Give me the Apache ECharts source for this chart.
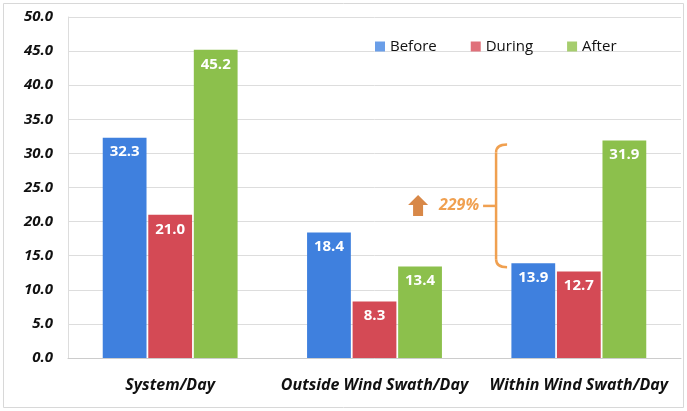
<!DOCTYPE html>
<html>

<head>
    <meta charset="utf-8">
    <script src="https://cdn.jsdelivr.net/npm/echarts@6/dist/echarts.min.js"></script>
    <style>
        body { margin: 0; background: #fff; }
        #main { width: 687px; height: 411px; }
    </style>
</head>

<body>
    <div id="main"></div>
</body>
<script>
    var categories = ['System/Day', 'Outside Wind Swath/Day', 'Within Wind Swath/Day'];
    var before = [32.3, 18.4, 13.9];
    var during = [21.0, 8.3, 12.7];
    var after = [45.2, 13.4, 31.9];
    var increase = '229%';

    var font = '"Open Sans", "Liberation Sans", sans-serif';
    var myChart = echarts.init(document.getElementById('main'));

    function makeSeries(name, data, color) {
        return {
            name: name,
            type: 'bar',
            data: data,
            barGap: '4%',
            barCategoryGap: '34%',
            itemStyle: { color: color },
            label: {
                show: true,
                position: 'insideTop',
                distance: 7,
                color: '#fff',
                fontWeight: 'bold',
                fontSize: 15,
                fontFamily: font,
                formatter: function (p) { return p.value.toFixed(1); }
            }
        };
    }

    myChart.setOption({
        animation: false,
        backgroundColor: '#fff',
        textStyle: { fontFamily: font },
        legend: {
            top: 34,
            left: 370,
            itemWidth: 10,
            itemHeight: 10,
            itemGap: 34,
            icon: 'rect',
            textStyle: { fontSize: 15, color: '#111', fontFamily: font },
            data: [
                { name: 'Before', itemStyle: { color: '#6a9ee8' } },
                { name: 'During', itemStyle: { color: '#e0707a' } },
                { name: 'After', itemStyle: { color: '#a6cd6e' } }
            ]
        },
        grid: { left: 68, right: 6, top: 17, bottom: 53 },
        xAxis: {
            type: 'category',
            data: categories,
            axisTick: { show: false },
            axisLine: { lineStyle: { color: '#cccccc' } },
            axisLabel: {
                interval: 0,
                margin: 19,
                fontSize: 16,
                fontWeight: 'bold',
                fontStyle: 'italic',
                color: '#111',
                fontFamily: font
            }
        },
        yAxis: {
            type: 'value',
            min: 0,
            max: 50,
            interval: 5,
            axisLine: { show: true, lineStyle: { color: '#dddddd' } },
            axisTick: { show: false },
            splitLine: { lineStyle: { color: '#dddddd' } },
            axisLabel: {
                margin: 15,
                fontSize: 15,
                fontWeight: 'bold',
                fontStyle: 'italic',
                color: '#111',
                fontFamily: font,
                formatter: function (v) { return v.toFixed(1); }
            }
        },
        series: [
            makeSeries('Before', before, '#3f80de'),
            makeSeries('During', during, '#d44a55'),
            makeSeries('After', after, '#8cc04c')
        ]
    });

    // bracket showing the rise from Before to After in the third group
    var idx = 2;
    var c0 = myChart.convertToPixel({ xAxisIndex: 0 }, categories[0]);
    var c1 = myChart.convertToPixel({ xAxisIndex: 0 }, categories[1]);
    var cx = myChart.convertToPixel({ xAxisIndex: 0 }, categories[idx]);
    var bandW = c1 - c0;
    var yTop = myChart.convertToPixel({ yAxisIndex: 0 }, after[idx] - 0.6);
    var yBot = myChart.convertToPixel({ yAxisIndex: 0 }, before[idx] - 0.6);
    var bx = cx - bandW * 0.405;
    var yMid = (yTop + yBot) / 2;
    var orange = '#f0a050';
    var lineStyle = { stroke: orange, lineWidth: 2.5, fill: 'none' };

    myChart.setOption({
        graphic: [
            {
                type: 'rect',
                shape: { x: 3.5, y: 3.5, width: 680, height: 404 },
                style: { fill: 'none', stroke: '#d8d8d8', lineWidth: 1 },
                silent: true
            },
            {
                type: 'bezierCurve',
                shape: { x1: bx + 11, y1: yTop, cpx1: bx, cpy1: yTop, x2: bx, y2: yTop + 8 },
                style: lineStyle
            },
            {
                type: 'line',
                shape: { x1: bx, y1: yTop + 8, x2: bx, y2: yBot - 8 },
                style: lineStyle
            },
            {
                type: 'bezierCurve',
                shape: { x1: bx, y1: yBot - 8, cpx1: bx, cpy1: yBot, x2: bx + 11, y2: yBot },
                style: lineStyle
            },
            {
                type: 'line',
                shape: { x1: bx - 13, y1: yMid, x2: bx, y2: yMid },
                style: lineStyle
            },
            {
                type: 'text',
                x: bx - 17,
                y: yMid,
                style: {
                    text: increase,
                    fill: orange,
                    font: 'italic bold 16px ' + font,
                    align: 'right',
                    verticalAlign: 'middle'
                }
            },
            {
                type: 'polygon',
                shape: {
                    points: [
                        [bx - 88, yMid - 1], [bx - 78, yMid - 11], [bx - 68, yMid - 1],
                        [bx - 73, yMid - 1], [bx - 73, yMid + 10], [bx - 83, yMid + 10], [bx - 83, yMid - 1]
                    ]
                },
                style: { fill: '#d88848' }
            }
        ]
    });
</script>

</html>
